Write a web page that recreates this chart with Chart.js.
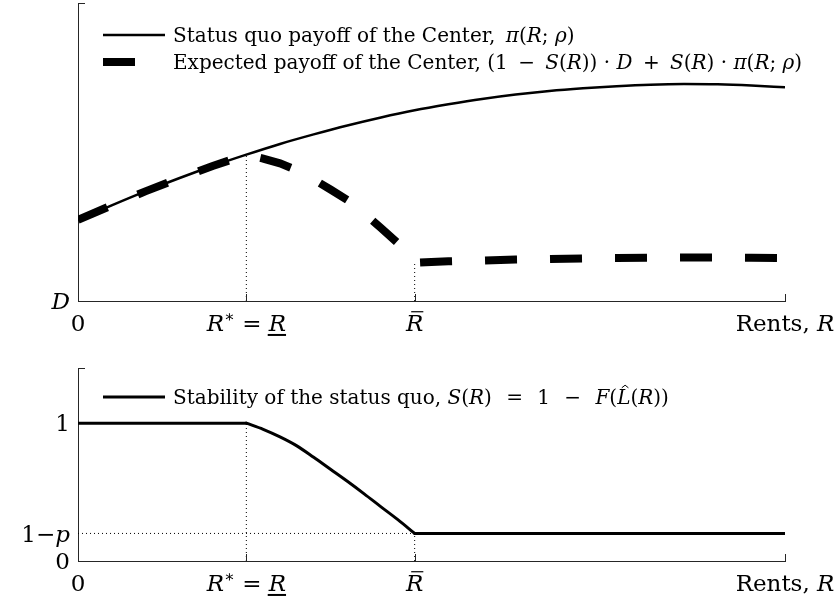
<!DOCTYPE html>
<html>
<head>
<meta charset="utf-8">
<script src="https://cdn.jsdelivr.net/npm/chart.js@4.4.1/dist/chart.umd.min.js"></script>
<style>
  body { margin: 0; background: #fff; }
  canvas { position: absolute; left: 0; }
  #top { top: 0; }
  #bottom { top: 340px; }
</style>
</head>
<body>
<canvas id="top" width="839" height="340"></canvas>
<canvas id="bottom" width="839" height="263"></canvas>
<script>
// rents on the x axis (R* = 1, R bar = 2)
const rStar = 1;
const rBar = 2;
const rentsMax = 4.2;
const onePMinusP = 0.2;

// status quo payoff of the Center, pi(R; rho)
const rentsPi = [0, 0.2, 0.4, 0.6, 0.8, 1.0, 1.2, 1.4, 1.6, 1.8, 2.0, 2.2, 2.4, 2.6, 2.8, 3.0, 3.2, 3.4, 3.6, 3.8, 4.0, 4.2];
const statusQuoPayoff = [2.72, 3.21, 3.68, 4.12, 4.53, 4.91, 5.27, 5.59, 5.89, 6.16, 6.40, 6.60, 6.78, 6.93, 7.05, 7.14, 7.21, 7.26, 7.28, 7.27, 7.23, 7.17];

// expected payoff of the Center
const rentsExpected = [0, 0.2, 0.4, 0.6, 0.8, 1.0, 1.1, 1.2, 1.3, 1.4, 1.5, 1.6, 1.7, 1.8, 1.9, 2.0, 2.2, 2.4, 2.6, 2.8, 3.0, 3.2, 3.4, 3.6, 3.8, 4.0, 4.2];
const expectedPayoff = [2.72, 3.21, 3.68, 4.12, 4.53, 4.91, 4.78, 4.62, 4.39, 4.08, 3.74, 3.39, 2.94, 2.45, 1.94, 1.28, 1.33, 1.36, 1.39, 1.41, 1.43, 1.44, 1.45, 1.46, 1.46, 1.45, 1.44];

// stability of the status quo, S(R): flat, falling between R* and R bar, flat
const rentsStabilityFall = [1.0, 1.1, 1.2, 1.3, 1.4, 1.5, 1.6, 1.7, 1.8, 1.9, 2.0];
const stabilityFall = [1, 0.955, 0.9, 0.835, 0.752, 0.665, 0.578, 0.487, 0.393, 0.3, 0.2];
const rentsStabilityFlat = [0, 1.0, null, 2.0, 4.2];
const stabilityFlat = [1, 1, null, 0.2, 0.2];

// tick labels (rich text: i = italic, sup = superscript, bar/under/hat = accents)
const xTicks = [0, rStar, rBar, rentsMax];
const xTickLabels = [
  [{ t: "0" }],
  [{ t: "R", i: 1 }, { t: "∗", sup: 1 }, { t: " = " }, { t: "R", i: 1, under: 1 }],
  [{ t: "R", i: 1, bar: 1 }],
  [{ t: "Rents, " }, { t: "R", i: 1 }],
];
const topYTicks = [0];
const topYTickLabels = [[{ t: "D", i: 1 }]];
const bottomYTicks = [0, onePMinusP, 1];
const bottomYTickLabels = [
  [{ t: "0" }],
  [{ t: "1−" }, { t: "p", i: 1 }],
  [{ t: "1" }],
];

// legend texts; thin spaces widen the gaps round math operators
const legendStatusQuo = [{ t: "Status quo payoff of the Center,\u2009 " }, { t: "π", i: 1 }, { t: "(" }, { t: "R", i: 1 }, { t: "; " }, { t: "ρ", i: 1 }, { t: ")" }];
const legendExpected = [{ t: "Expected payoff of the Center, (1 \u2009−\u2009 " }, { t: "S", i: 1 }, { t: "(" }, { t: "R", i: 1 }, { t: ")) · " }, { t: "D", i: 1 }, { t: " \u2009+\u2009 " }, { t: "S", i: 1 }, { t: "(" }, { t: "R", i: 1 }, { t: ") · " }, { t: "π", i: 1 }, { t: "(" }, { t: "R", i: 1 }, { t: "; " }, { t: "ρ", i: 1 }, { t: ")" }];
const legendStability = [{ t: "Stability of the status quo, " }, { t: "S", i: 1 }, { t: "(" }, { t: "R", i: 1 }, { t: ") \u2009\u2009=\u2009\u2009 1 \u2009\u2009−\u2009\u2009 " }, { t: "F", i: 1 }, { t: "(" }, { t: "L", i: 1, hat: 1 }, { t: "(" }, { t: "R", i: 1 }, { t: "))" }];

const FONT = '"DejaVu Serif", "Liberation Serif", serif';
const LEGEND_SIZE = 20;
const TICK_SIZE = 23;
const AXIS = "#262626";

const pairs = (xs, ys) => xs.map((x, i) => ({ x: x, y: ys[i] }));
const valueAt = (xs, ys, x) => ys[xs.indexOf(x)];

const fontFor = (p, size) => (p.i ? "italic " : "") + (p.sup ? Math.round(size * 0.7) : size) + "px " + FONT;

const richWidth = (ctx, parts, size) => {
  let w = 0;
  parts.forEach((p) => {
    ctx.font = fontFor(p, size);
    w += ctx.measureText(p.t).width;
  });
  return w;
};

// draws mixed upright/italic text, vertically centred on cy
const drawRich = (ctx, parts, x, cy, align, size) => {
  const w = richWidth(ctx, parts, size);
  let cx = align == "center" ? x - w / 2 : align == "right" ? x - w : x;
  const base = cy + size * 0.36;
  ctx.fillStyle = "#000";
  ctx.strokeStyle = "#000";
  ctx.textBaseline = "alphabetic";
  ctx.textAlign = "left";
  parts.forEach((p) => {
    ctx.font = fontFor(p, size);
    const pw = ctx.measureText(p.t).width;
    ctx.fillText(p.t, cx, p.sup ? base - size * 0.4 : base);
    ctx.lineWidth = 1.2;
    if (p.bar) {
      ctx.beginPath();
      ctx.moveTo(cx + pw * 0.3, base - size * 0.85);
      ctx.lineTo(cx + pw * 1.0, base - size * 0.85);
      ctx.stroke();
    }
    if (p.under) {
      ctx.lineWidth = 2;
      ctx.beginPath();
      ctx.moveTo(cx - 1, base + size * 0.16);
      ctx.lineTo(cx + pw, base + size * 0.16);
      ctx.stroke();
    }
    if (p.hat) {
      ctx.lineWidth = 1;
      ctx.beginPath();
      ctx.moveTo(cx + pw * 0.35, base - size * 0.82);
      ctx.lineTo(cx + pw * 0.6, base - size * 0.95);
      ctx.lineTo(cx + pw * 0.85, base - size * 0.82);
      ctx.stroke();
    }
    cx += pw;
  });
};

// axis ticks (pointing inward), tick labels and the legend
const figureText = (yTicks, yLabels, legend) => ({
  id: "figureText",
  afterDraw(chart) {
    const { ctx } = chart;
    const x = chart.scales.x;
    const y = chart.scales.y;
    ctx.save();
    ctx.strokeStyle = AXIS;
    ctx.lineWidth = 1;
    ctx.beginPath();
    xTicks.forEach((v) => {
      const px = Math.round(x.getPixelForValue(v)) + 0.5;
      ctx.moveTo(px, y.bottom);
      ctx.lineTo(px, y.bottom - 7);
    });
    const topPx = Math.round(y.getPixelForValue(y.max)) + 0.5;
    ctx.moveTo(x.left, topPx);
    ctx.lineTo(x.left + 7, topPx);
    ctx.stroke();

    xTicks.forEach((v, i) => {
      drawRich(ctx, xTickLabels[i], x.getPixelForValue(v), y.bottom + 22, "center", TICK_SIZE);
    });
    yTicks.forEach((v, i) => {
      drawRich(ctx, yLabels[i], x.left - 8, y.getPixelForValue(v), "right", TICK_SIZE);
    });

    legend.forEach((item) => {
      const ly = y.top + item.dy;
      ctx.strokeStyle = "#000";
      ctx.lineWidth = item.width;
      ctx.lineCap = "butt";
      ctx.beginPath();
      ctx.moveTo(x.left + 25, ly);
      ctx.lineTo(x.left + 25 + item.len, ly);
      ctx.stroke();
      drawRich(ctx, item.text, x.left + 95, ly, "left", LEGEND_SIZE);
    });
    ctx.restore();
  },
});

const lineSet = (data, width, extra) => Object.assign({
  data: data,
  borderColor: "#000",
  borderWidth: width,
  pointRadius: 0,
  fill: false,
  tension: 0,
  spanGaps: false,
}, extra || {});

const dotted = (data) => lineSet(data, 1, { borderDash: [1, 3] });

const axisOptions = (min, max) => ({
  type: "linear",
  min: min,
  max: max,
  grid: { display: false, drawTicks: false },
  ticks: { display: false },
  border: { display: true, color: AXIS, width: 1 },
});

const baseOptions = (padding, yMax) => ({
  responsive: false,
  animation: false,
  events: [],
  layout: { padding: padding },
  plugins: { legend: { display: false }, tooltip: { enabled: false } },
  scales: { x: axisOptions(0, rentsMax), y: axisOptions(0, yMax) },
});

const piAtRStar = valueAt(rentsPi, statusQuoPayoff, rStar);
const expectedAtRBar = valueAt(rentsExpected, expectedPayoff, rBar);

new Chart(document.getElementById("top"), {
  type: "line",
  data: {
    datasets: [
      lineSet(pairs(rentsPi, statusQuoPayoff), 2.5, { cubicInterpolationMode: "monotone" }),
      lineSet(pairs(rentsExpected, expectedPayoff), 8, { borderDash: [32, 33], borderCapStyle: "butt" }),
      dotted([{ x: rStar, y: 0 }, { x: rStar, y: piAtRStar }]),
      dotted([{ x: rBar, y: 0 }, { x: rBar, y: expectedAtRBar }]),
    ],
  },
  options: baseOptions({ left: 78, top: 3, right: 54, bottom: 39 }, 10),
  plugins: [figureText(topYTicks, topYTickLabels, [
    { text: legendStatusQuo, dy: 32, width: 2.5, len: 62 },
    { text: legendExpected, dy: 59, width: 8, len: 32 },
  ])],
});

new Chart(document.getElementById("bottom"), {
  type: "line",
  data: {
    datasets: [
      lineSet(pairs(rentsStabilityFall, stabilityFall), 3, { cubicInterpolationMode: "monotone", borderCapStyle: "round" }),
      lineSet(pairs(rentsStabilityFlat, stabilityFlat), 3, { borderCapStyle: "round" }),
      dotted([{ x: rStar, y: 0 }, { x: rStar, y: 1 }]),
      dotted([{ x: rBar, y: 0 }, { x: rBar, y: onePMinusP }]),
      dotted([{ x: 0, y: onePMinusP }, { x: rBar, y: onePMinusP }]),
    ],
  },
  options: baseOptions({ left: 78, top: 28, right: 54, bottom: 42 }, 1.4),
  plugins: [figureText(bottomYTicks, bottomYTickLabels, [
    { text: legendStability, dy: 29, width: 3, len: 62 },
  ])],
});
</script>
</body>
</html>
